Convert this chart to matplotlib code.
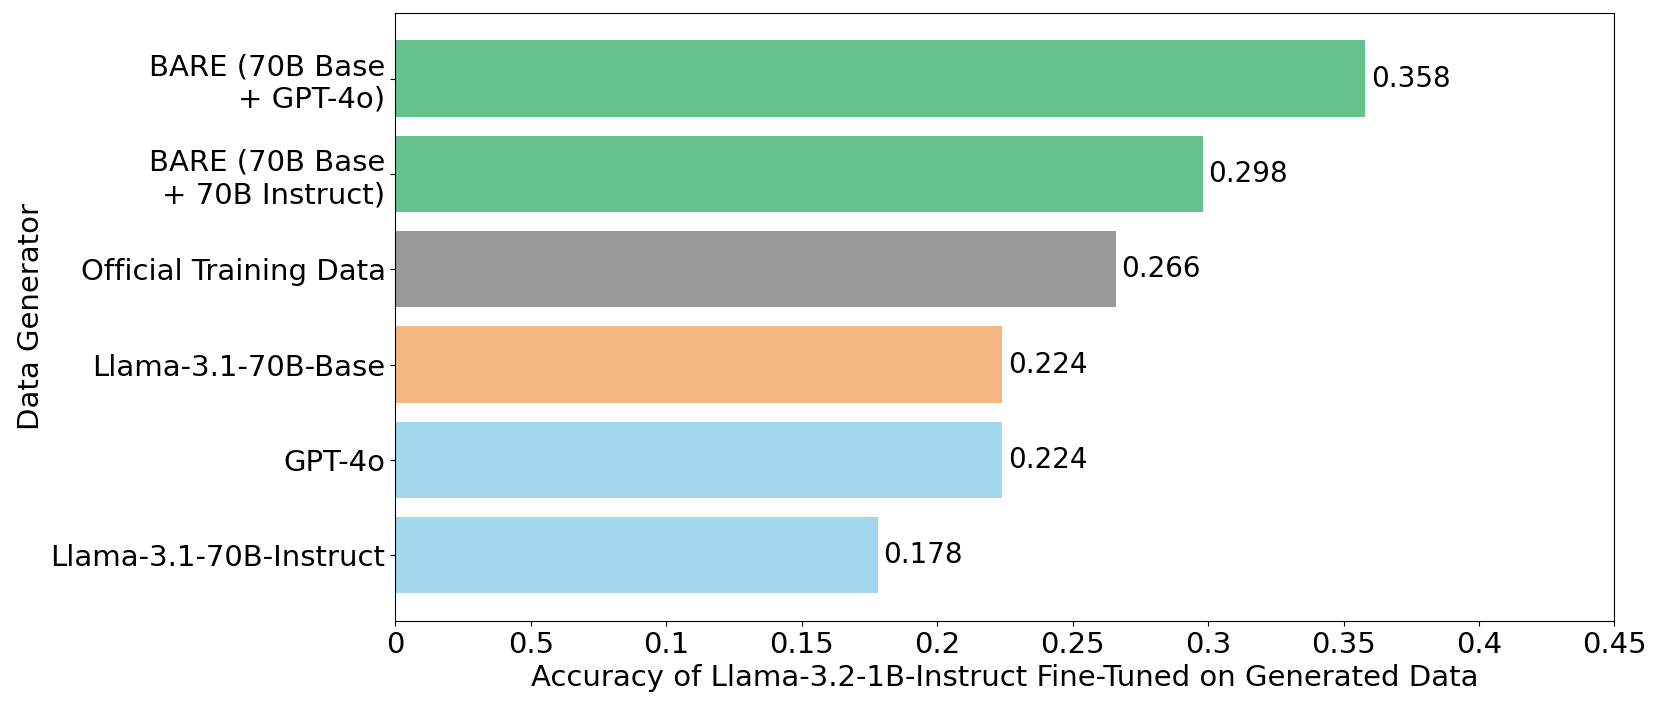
import matplotlib.pyplot as plt

labels = ["Llama-3.1-70B-Instruct", "GPT-4o", "Llama-3.1-70B-Base",
          "Official Training Data", "BARE (70B Base\n+ 70B Instruct)",
          "BARE (70B Base\n+ GPT-4o)"]
scores = [0.178, 0.224, 0.224, 0.266, 0.298, 0.358]
colors = ["#a3d7ee", "#a3d7ee", "#f4b782", "#999999", "#65c28e", "#65c28e"]

tick_vals = [0, 0.05, 0.1, 0.15, 0.2, 0.25, 0.3, 0.35, 0.4, 0.45]
tick_text = ["0", "0.5", "0.1", "0.15", "0.2", "0.25", "0.3", "0.35", "0.4", "0.45"]

fs = 21

fig = plt.figure(figsize=(16.61, 7.09), dpi=100)
ax = fig.add_axes([0.238, 0.124, 0.734, 0.858])

bars = ax.barh(labels, scores, color=colors, height=0.8)
ax.bar_label(bars, labels=[f"{s:.3f}" for s in scores], padding=4, fontsize=20)

ax.set_xlim(0, 0.45)
ax.set_xticks(tick_vals)
ax.set_xticklabels(tick_text)
ax.tick_params(labelsize=fs)
ax.set_xlabel("Accuracy of Llama-3.2-1B-Instruct Fine-Tuned on Generated Data", fontsize=fs)
ax.set_ylabel("Data Generator", fontsize=fs)

fig.savefig("out.png")
